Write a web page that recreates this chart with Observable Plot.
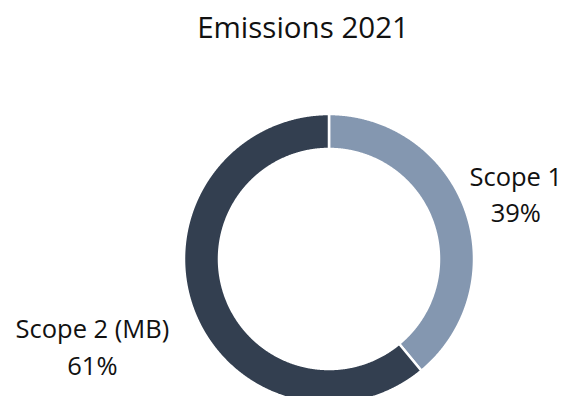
<!DOCTYPE html>
<html><head><meta charset="utf-8">
<script src="https://cdn.jsdelivr.net/npm/d3@7"></script>
<script src="https://cdn.jsdelivr.net/npm/@observablehq/plot@0.6"></script>
<style>body{margin:0;background:#fff;} svg{display:block;}</style>
</head><body><div id="chart"></div>
<script>
const title = "Emissions 2021";
const categories = ["Scope 1", "Scope 2 (MB)"];
const shares = [39, 61];
const colors = ["#8497B0", "#333F50"];

const W = 575, H = 396;
const cx = 329, cy = 259;          // donut centre in pixels
const outerR = 145, innerR = 110;  // radii (stroke trims 1.25px each side)
const labelR = [198, 252];
const font = "'Open Sans', sans-serif";

const rows = categories.map((c, i) => ({category: c, share: shares[i]}));
const arcs = d3.pie().sort(null).value(d => d.share)(rows);

// sample each sector's outer & inner edges
const ring = arcs.flatMap(a => {
  const n = Math.max(2, Math.ceil((a.endAngle - a.startAngle) / 0.005));
  return d3.range(n + 1).map(k => {
    const t = a.startAngle + (a.endAngle - a.startAngle) * k / n;
    return {category: a.data.category,
      x1: outerR * Math.sin(t), y1: outerR * Math.cos(t),
      x2: innerR * Math.sin(t), y2: innerR * Math.cos(t)};
  });
});

const labels = arcs.map((a, i) => {
  const m = (a.startAngle + a.endAngle) / 2;
  return {text: `${a.data.category}\n${Math.round(a.data.share)}%`,
    x: labelR[i] * Math.sin(m), y: labelR[i] * Math.cos(m)};
});

const chart = Plot.plot({
  width: W, height: H,
  margin: 0,
  style: {fontFamily: font, background: "#fff"},
  x: {type: "linear", domain: [-cx, W - cx], range: [0, W], axis: null},
  y: {type: "linear", domain: [cy, cy - H], range: [0, H], axis: null},
  color: {domain: categories, range: colors},
  marks: [
    Plot.area(ring, {x1: "x1", y1: "y1", x2: "x2", y2: "y2", z: "category", fill: "category",
      stroke: "#fff", strokeWidth: 2.5, curve: "linear"}),
    Plot.text(labels, {x: "x", y: "y", text: "text", fontSize: 25.5, lineHeight: 1.42,
      lineAnchor: "middle", textAnchor: "middle", fill: "#111"}),
    Plot.text([title], {frameAnchor: "top", text: d => d, dx: 15, dy: 17, fontSize: 29.5,
      lineAnchor: "top", fill: "#111"})
  ]
});
document.getElementById("chart").appendChild(chart);
</script>
</body></html>
